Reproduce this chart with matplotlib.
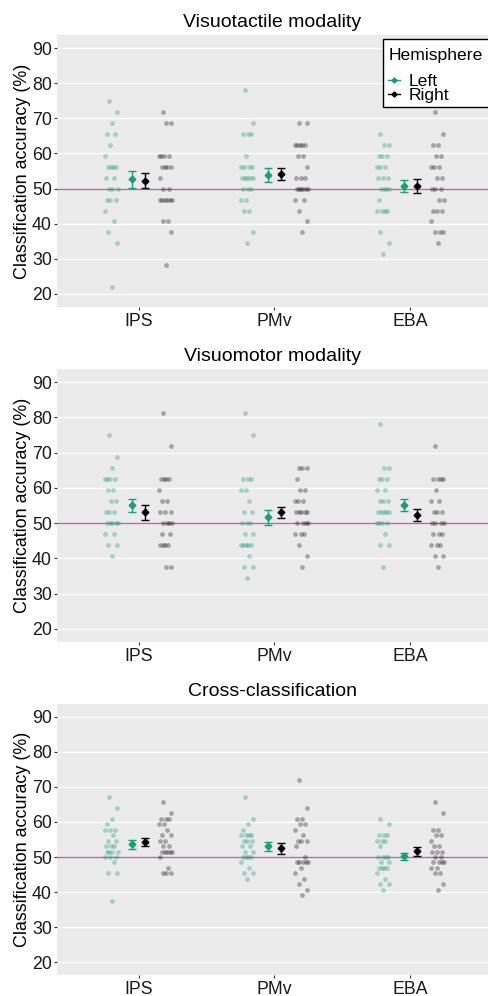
import numpy as np
import matplotlib
matplotlib.use("Agg")
import matplotlib.pyplot as plt
from matplotlib.lines import Line2D
from matplotlib.patches import Rectangle

plt.rcParams['font.family'] = ['Liberation Sans', 'DejaVu Sans']

regions = ['IPS', 'PMv', 'EBA']
titles = ['Visuotactile modality', 'Visuomotor modality', 'Cross-classification']
hemis = ['Left', 'Right']

# individual subject accuracies (%)
vt_left = {
    'IPS': [75, 71.88, 68.75, 65.63, 65.63, 62.5, 59.38, 56.25, 56.25, 56.25, 56.25, 53.13,
            53.13, 50, 50, 50, 46.88, 46.88, 46.88, 43.75, 40.63, 37.5, 34.38, 21.88],
    'PMv': [78.13, 68.75, 65.63, 65.63, 65.63, 59.38, 56.25, 56.25, 56.25, 56.25, 53.13, 53.13,
            53.13, 53.13, 53.13, 50, 50, 50, 46.88, 46.88, 43.75, 43.75, 37.5, 34.38],
    'EBA': [65.63, 62.5, 62.5, 59.38, 59.38, 59.38, 56.25, 56.25, 56.25, 53.13, 53.13, 53.13,
            50, 50, 50, 50, 46.88, 43.75, 43.75, 43.75, 43.75, 37.5, 34.38, 31.25],
}
vt_right = {
    'IPS': [71.88, 68.75, 68.75, 59.38, 59.38, 59.38, 59.38, 56.25, 56.25, 56.25, 56.25, 53.13,
            50, 50, 46.88, 46.88, 46.88, 46.88, 46.88, 46.88, 40.63, 40.63, 37.5, 28.13],
    'PMv': [68.75, 68.75, 62.5, 62.5, 62.5, 62.5, 62.5, 59.38, 59.38, 56.25, 53.13, 53.13,
            53.13, 50, 50, 50, 50, 50, 50, 46.88, 46.88, 43.75, 40.63, 37.5],
    'EBA': [71.88, 65.63, 62.5, 62.5, 59.38, 59.38, 56.25, 56.25, 56.25, 53.13, 53.13, 50,
            50, 50, 46.88, 46.88, 43.75, 43.75, 43.75, 40.63, 37.5, 37.5, 37.5, 34.38],
}
vm_left = {
    'IPS': [75, 68.75, 65.63, 62.5, 62.5, 62.5, 62.5, 59.38, 59.38, 56.25, 56.25, 53.13,
            53.13, 53.13, 50, 50, 50, 50, 50, 46.88, 46.88, 43.75, 43.75, 40.63],
    'PMv': [81.25, 75, 62.5, 62.5, 62.5, 59.38, 59.38, 56.25, 53.13, 53.13, 50, 50,
            50, 46.88, 46.88, 43.75, 43.75, 43.75, 43.75, 43.75, 40.63, 37.5, 37.5, 34.38],
    'EBA': [78.13, 65.63, 65.63, 62.5, 62.5, 62.5, 59.38, 59.38, 56.25, 56.25, 56.25, 53.13,
            53.13, 53.13, 53.13, 53.13, 50, 50, 50, 50, 46.88, 43.75, 43.75, 37.5],
}
vm_right = {
    'IPS': [81.25, 71.88, 62.5, 62.5, 62.5, 62.5, 59.38, 56.25, 56.25, 53.13, 53.13, 53.13,
            50, 50, 50, 50, 46.88, 46.88, 43.75, 43.75, 43.75, 43.75, 37.5, 37.5],
    'PMv': [65.63, 65.63, 65.63, 62.5, 59.38, 59.38, 56.25, 56.25, 56.25, 53.13, 53.13, 53.13,
            53.13, 53.13, 50, 50, 50, 50, 46.88, 46.88, 46.88, 43.75, 40.63, 37.5],
    'EBA': [71.88, 62.5, 62.5, 62.5, 62.5, 59.38, 56.25, 56.25, 53.13, 53.13, 53.13, 50,
            50, 50, 50, 46.88, 46.88, 46.88, 43.75, 43.75, 43.75, 40.63, 40.63, 37.5],
}
cc_left = {
    'IPS': [67.19, 64.06, 60.94, 59.38, 57.81, 57.81, 57.81, 56.25, 54.69, 54.69, 53.13, 53.13,
            53.13, 51.56, 51.56, 51.56, 51.56, 50, 50, 50, 48.44, 45.31, 45.31, 37.5],
    'PMv': [67.19, 60.94, 59.38, 57.81, 56.25, 56.25, 56.25, 56.25, 54.69, 54.69, 54.69, 53.13,
            53.13, 51.56, 51.56, 50, 50, 50, 50, 48.44, 46.88, 45.31, 45.31, 43.75],
    'EBA': [60.94, 59.38, 56.25, 56.25, 56.25, 54.69, 54.69, 54.69, 53.13, 50, 50, 50,
            50, 48.44, 48.44, 46.88, 46.88, 46.88, 46.88, 45.31, 43.75, 42.19, 42.19, 40.63],
}
cc_right = {
    'IPS': [65.63, 62.5, 60.94, 60.94, 60.94, 59.38, 59.38, 57.81, 56.25, 56.25, 54.69, 54.69,
            53.13, 53.13, 51.56, 51.56, 51.56, 51.56, 51.56, 50, 46.88, 45.31, 45.31, 45.31],
    'PMv': [71.88, 64.06, 60.94, 60.94, 59.38, 59.38, 57.81, 56.25, 54.69, 54.69, 54.69, 53.13,
            50, 48.44, 48.44, 48.44, 48.44, 48.44, 46.88, 45.31, 43.75, 42.19, 40.63, 39.06],
    'EBA': [65.63, 62.5, 57.81, 57.81, 56.25, 56.25, 54.69, 53.13, 53.13, 51.56, 51.56, 51.56,
            50, 50, 48.44, 48.44, 48.44, 48.44, 46.88, 46.88, 45.31, 45.31, 42.19, 40.63],
}

# group means and standard errors (IPS, PMv, EBA)
vt_mean_left = [52.6, 53.8, 50.7]
vt_se_left = [2.45, 1.95, 1.65]
vt_mean_right = [52.2, 54.1, 50.7]
vt_se_right = [2.1, 1.7, 2.0]
vm_mean_left = [55.0, 51.6, 55.1]
vm_se_left = [1.85, 2.25, 1.7]
vm_mean_right = [53.1, 53.1, 52.2]
vm_se_right = [2.15, 1.55, 1.7]
cc_mean_left = [53.6, 53.1, 50.2]
cc_se_left = [1.3, 1.25, 1.05]
cc_mean_right = [54.3, 52.5, 51.6]
cc_se_right = [1.15, 1.5, 1.2]

panels = [
    (vt_left, vt_right, vt_mean_left, vt_se_left, vt_mean_right, vt_se_right),
    (vm_left, vm_right, vm_mean_left, vm_se_left, vm_mean_right, vm_se_right),
    (cc_left, cc_right, cc_mean_left, cc_se_left, cc_mean_right, cc_se_right),
]

green = '#1b9e77'
hemi_cols = [green, 'black']
chance_col = '#b96b9b'

W, H = 488, 996
fig = plt.figure(figsize=(W / 100, H / 100), dpi=100)

# panel tops / bottoms in pixels
tops = [35, 369, 704]
bots = [307, 642, 975]
left_px = 57


def jitter(n, half=0.05):
    # deterministic spread of the dots (golden ratio sequence)
    k = np.arange(n)
    return ((k * 0.618034 + 0.3) % 1.0 - 0.5) * 2 * half


def fx(px):
    return px / W


def fy(py):
    return 1 - py / H


for p, (dl, dr, ml, sl, mr, sr) in enumerate(panels):
    ax = fig.add_axes([fx(left_px), fy(bots[p]), (W - left_px) / W, (bots[p] - tops[p]) / H])
    ax.set_facecolor('#ebebeb')
    for s in ax.spines.values():
        s.set_visible(False)
    ax.set_xlim(0.4, 3.571)
    ax.set_ylim(16.3, 93.7)
    ax.set_yticks([20, 30, 40, 50, 60, 70, 80, 90])
    ax.grid(axis='y', color='white', linewidth=1.0)
    ax.set_axisbelow(True)
    ax.axhline(50, color=chance_col, linewidth=1.0, zorder=1.5)

    for i, r in enumerate(regions):
        x0 = i + 1
        yl = np.array(dl[r])
        yr = np.array(dr[r])
        ax.scatter(x0 - 0.2 + jitter(len(yl)), yl, s=12, color=green, alpha=0.35,
                   linewidths=0, zorder=2)
        ax.scatter(x0 + 0.2 + jitter(len(yr)), yr, s=12, color='black', alpha=0.3,
                   linewidths=0, zorder=2)
        ax.errorbar(x0 - 0.05, ml[i], yerr=sl[i], fmt='D', color=green, markersize=3.4,
                    capsize=2.6, elinewidth=1.0, capthick=1.0, zorder=3)
        ax.errorbar(x0 + 0.05, mr[i], yerr=sr[i], fmt='D', color='black', markersize=3.4,
                    capsize=2.6, elinewidth=1.0, capthick=1.0, zorder=3)

    ax.set_xticks([1, 2, 3])
    ax.set_xticklabels(regions)
    ax.tick_params(axis='both', labelsize=12.8, colors='#333333', labelcolor='#1a1a1a',
                   length=2.2, width=0.8)
    ax.tick_params(axis='y', pad=1.5)
    ax.tick_params(axis='x', pad=2.0)
    ax.set_title(titles[p], fontsize=14, pad=6)
    ax.set_ylabel('Classification accuracy (%)', fontsize=12.9)
    ax.yaxis.set_label_coords(-0.060, 0.5)

# legend box drawn by hand (ggplot-style layout)
fig.patches.append(Rectangle((fx(383), fy(107)), fx(120), 68 / H, transform=fig.transFigure,
                             facecolor='white', edgecolor='black', linewidth=1.0, zorder=5))
fig.text(fx(389), fy(60), 'Hemisphere', fontsize=12.6, va='baseline', ha='left', zorder=6)
for j, (lab, col) in enumerate(zip(hemis, hemi_cols)):
    yk = 80 + j * 14.5
    fig.add_artist(Line2D([fx(388), fx(400)], [fy(yk), fy(yk)], color=col, linewidth=1.0,
                          transform=fig.transFigure, zorder=6))
    fig.add_artist(Line2D([fx(394)], [fy(yk)], color=col, marker='D', markersize=2.6,
                          transform=fig.transFigure, zorder=6))
    fig.text(fx(409), fy(yk + 5.5), lab, fontsize=12.6, va='baseline', ha='left', zorder=6)

fig.savefig('out.png', dpi=100)
